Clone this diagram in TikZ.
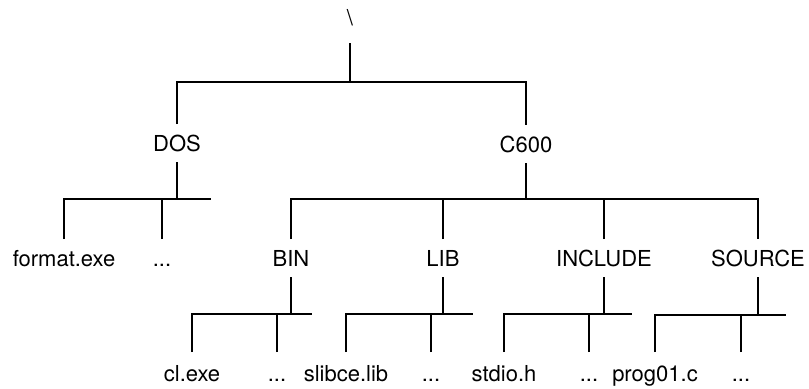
\documentclass[tikz,border=0pt]{standalone}
\usepackage{fontspec}
\setmainfont{TeX Gyre Heros}
\usepackage{tikz}

\begin{document}
\begin{tikzpicture}[x=0.5pt,y=-0.5pt,line width=1pt,
    dir/.style={inner sep=0pt,anchor=base,text height=8pt,text depth=0pt,outer ysep=5.5pt,font=\fontsize{11}{13}\selectfont},
    file/.style={dir,outer ysep=6.5pt}]
\useasboundingbox (0,0) rectangle (809,388);
% Nodes
\node[dir,outer ysep=9pt] (root) at (350,25) {\textbackslash};
\node[dir] (dos) at (177,151) {DOS};
\node[dir] (c600) at (526,152) {C600};

\node[dir] (format) at (64,266) {format.exe};
\node[dir] (dosdots) at (162,266) {...};
\node[dir] (bin) at (291,266) {BIN};
\node[dir] (lib) at (443,266) {LIB};
\node[dir] (include) at (604,266) {INCLUDE};
\node[dir] (source) at (758,266) {SOURCE};

\node[file] (cl) at (192,381) {cl.exe};
\node[file] (bindots) at (277,381) {...};
\node[file] (slibce) at (346,381) {slibce.lib};
\node[file] (libdots) at (431,381) {...};
\node[file] (stdio) at (504,381) {stdio.h};
\node[file] (incdots) at (589,381) {...};
\node[file] (prog) at (655,381) {prog01.c};
\node[file] (srcdots) at (741,381) {...};

% Bus ends
\coordinate (rootbus) at (350,82);
\coordinate (dosend) at (211,199);
\coordinate (c600bus) at (526,199);
\coordinate (binend) at (312,314);
\coordinate (libend) at (473,314);
\coordinate (incend) at (632,314);
\coordinate (srcend) at (786,315);

% Edges
\draw[-] (root.south) -- (rootbus);
\draw[-] (dos.north) |- (rootbus) -| (c600.north);

\draw[-] (dos.south) -- (dos.south |- dosend);
\draw[-] (format.north) |- (dosend);
\draw[-] (dosdots.north) -- (dosdots.north |- dosend);

\draw[-] (c600.south) -- (c600bus);
\draw[-] (bin.north) |- (c600bus) -| (source.north);
\draw[-] (lib.north) -- (lib.north |- c600bus);
\draw[-] (include.north) -- (include.north |- c600bus);

\draw[-] (bin.south) -- (bin.south |- binend);
\draw[-] (cl.north) |- (binend);
\draw[-] (bindots.north) -- (bindots.north |- binend);

\draw[-] (lib.south) -- (lib.south |- libend);
\draw[-] (slibce.north) |- (libend);
\draw[-] (libdots.north) -- (libdots.north |- libend);

\draw[-] (include.south) -- (include.south |- incend);
\draw[-] (stdio.north) |- (incend);
\draw[-] (incdots.north) -- (incdots.north |- incend);

\draw[-] (source.south) -- (source.south |- srcend);
\draw[-] (prog.north) |- (srcend);
\draw[-] (srcdots.north) -- (srcdots.north |- srcend);
\end{tikzpicture}
\end{document}
